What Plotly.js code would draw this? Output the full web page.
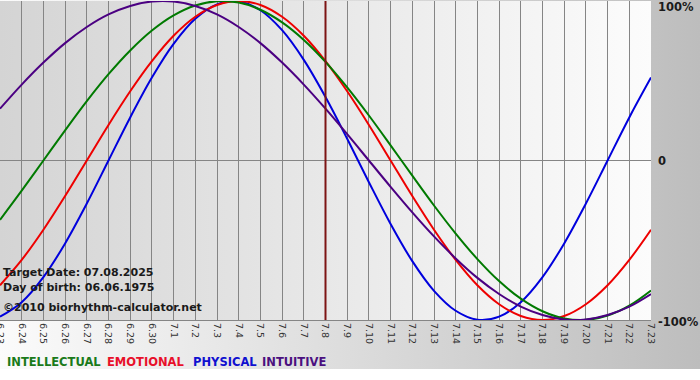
<!DOCTYPE html>
<html>
<head>
<meta charset="utf-8">
<script src="https://cdn.plot.ly/plotly-3.0.1.min.js"></script>
<style>
  html, body { margin: 0; padding: 0; background: #ffffff; }
  #chart {
    width: 700px; height: 380px;
    background: linear-gradient(to right, #fbfbfb, #bdbdbd) 0 0 / 700px 369px no-repeat, #ffffff;
  }
</style>
</head>
<body>
<div id="chart"></div>
<script>
// Day labels (6.23 .. 7.23)
const dates = ['6.23','6.24','6.25','6.26','6.27','6.28','6.29','6.30',
  '7.1','7.2','7.3','7.4','7.5','7.6','7.7','7.8','7.9','7.10','7.11','7.12',
  '7.13','7.14','7.15','7.16','7.17','7.18','7.19','7.20','7.21','7.22','7.23'];
const targetDate = '7.8';

// Series values (fraction of 100%), read per day
const physical = [-0.979,-0.888,-0.731,-0.520,-0.270,0.000,0.270,0.520,0.731,0.888,
  0.979,0.998,0.942,0.817,0.631,0.398,0.136,-0.136,-0.398,-0.631,
  -0.817,-0.942,-0.998,-0.979,-0.888,-0.731,-0.520,-0.270,0.000,0.270,0.520];
const emotional = [-0.782,-0.623,-0.434,-0.223,0.000,0.223,0.434,0.623,0.782,0.901,
  0.975,1.000,0.975,0.901,0.782,0.623,0.434,0.223,0.000,-0.223,
  -0.434,-0.623,-0.782,-0.901,-0.975,-1.000,-0.975,-0.901,-0.782,-0.623,-0.434];
const intellectual = [-0.372,-0.189,0.000,0.189,0.372,0.541,0.690,0.815,0.910,0.972,
  0.999,0.990,0.945,0.866,0.756,0.618,0.458,0.282,0.095,-0.095,
  -0.282,-0.458,-0.618,-0.756,-0.866,-0.945,-0.990,-0.999,-0.972,-0.910,-0.815];
const intuitive = [0.325,0.476,0.614,0.736,0.837,0.916,0.969,0.997,0.997,0.969,
  0.916,0.837,0.736,0.614,0.476,0.325,0.165,0.000,-0.165,-0.325,
  -0.476,-0.614,-0.736,-0.837,-0.916,-0.969,-0.997,-0.997,-0.969,-0.916,-0.837];

const yTickVals = [1, 0, -1];
const yTickText = ['100%', '0', '-100%'];
const infoLines = ['Target Date: 07.08.2025', 'Day of birth: 06.06.1975', '\u00a92010 biorhythm-calculator.net'];
const legendNames = ['INTELLECTUAL', 'EMOTIONAL', 'PHYSICAL', 'INTUITIVE'];

const colors = { physical: '#0000dd', emotional: '#ee0000', intellectual: '#007a00', intuitive: '#4b0082' };
const legendColors = ['#1a7a1a', '#e8102a', '#1010d0', '#4b1080'];

function line(y, color, name) {
  return { x: dates, y: y, type: 'scatter', mode: 'lines', name: name,
    line: { color: color, width: 2, shape: 'spline', smoothing: 1 }, hoverinfo: 'skip' };
}
const traces = [
  line(physical, colors.physical, 'PHYSICAL'),
  line(emotional, colors.emotional, 'EMOTIONAL'),
  line(intellectual, colors.intellectual, 'INTELLECTUAL'),
  line(intuitive, colors.intuitive, 'INTUITIVE')
];

const plotW = 651;
const bgSvg = "<svg xmlns='http://www.w3.org/2000/svg' width='100' height='100' viewBox='0 0 100 100' preserveAspectRatio='none'>" +
  "<defs><linearGradient id='g' x1='0' x2='1' y1='0' y2='0'><stop offset='0' stop-color='#d4d4d4'/><stop offset='1' stop-color='#fcfcfc'/></linearGradient></defs>" +
  "<rect x='0' y='0' width='100' height='100' fill='url(#g)'/></svg>";

const annotations = [];
const yShifts = [-6, 0, -2];
yTickVals.forEach((v, i) => annotations.push({
  xref: 'paper', yref: 'y', x: 1, y: v, xanchor: 'left', yanchor: 'middle',
  xshift: 5, yshift: yShifts[i], showarrow: false, text: yTickText[i],
  font: { family: 'DejaVu Sans', size: 11.5, color: '#1a1a1a', weight: 'bold' }
}));
const infoY = [272, 287, 307];
infoLines.forEach((t, i) => annotations.push({
  xref: 'paper', yref: 'paper', x: 1 / plotW, y: 1 - (infoY[i] - 1) / 319,
  xanchor: 'left', yanchor: 'middle', showarrow: false, text: t,
  font: { family: 'DejaVu Sans', size: 11, color: '#1a1a1a', weight: 'bold' }
}));
const legendX = [5, 105, 191, 260];
legendNames.forEach((t, i) => annotations.push({
  xref: 'paper', yref: 'paper', x: legendX[i] / plotW, y: 1 - (362 - 1) / 319,
  xanchor: 'left', yanchor: 'middle', showarrow: false, text: t,
  font: { family: 'DejaVu Sans', size: 11.5, color: legendColors[i], weight: 'bold' }
}));

const layout = {
  width: 700, height: 380,
  margin: { l: 0, r: 49, t: 1, b: 60, pad: 0 },
  paper_bgcolor: 'rgba(0,0,0,0)',
  plot_bgcolor: 'rgba(0,0,0,0)',
  showlegend: false,
  xaxis: {
    type: 'category', range: [0, dates.length - 1],
    showgrid: true, gridcolor: '#858585', gridwidth: 1,
    tickangle: 90, ticks: '', showline: true, linecolor: '#858585', linewidth: 1,
    tickfont: { family: 'DejaVu Sans', size: 9.5, color: '#333333' },
    zeroline: false, fixedrange: true
  },
  yaxis: {
    range: [-1, 1], tickvals: yTickVals, showticklabels: false,
    showgrid: true, gridcolor: '#858585', gridwidth: 1, zeroline: false,
    ticks: '', fixedrange: true
  },
  images: [{
    source: 'data:image/svg+xml;charset=utf-8,' + encodeURIComponent(bgSvg),
    xref: 'paper', yref: 'paper', x: 0, y: 1, sizex: 1, sizey: 1,
    sizing: 'stretch', layer: 'below', xanchor: 'left', yanchor: 'top'
  }],
  shapes: [{
    type: 'line', xref: 'x', yref: 'paper', x0: dates.indexOf(targetDate), x1: dates.indexOf(targetDate),
    y0: 0, y1: 1, line: { color: '#7d1414', width: 2 }, layer: 'above'
  }],
  annotations: annotations
};

Plotly.newPlot('chart', traces, layout, { staticPlot: true, displayModeBar: false });
</script>
</body>
</html>
